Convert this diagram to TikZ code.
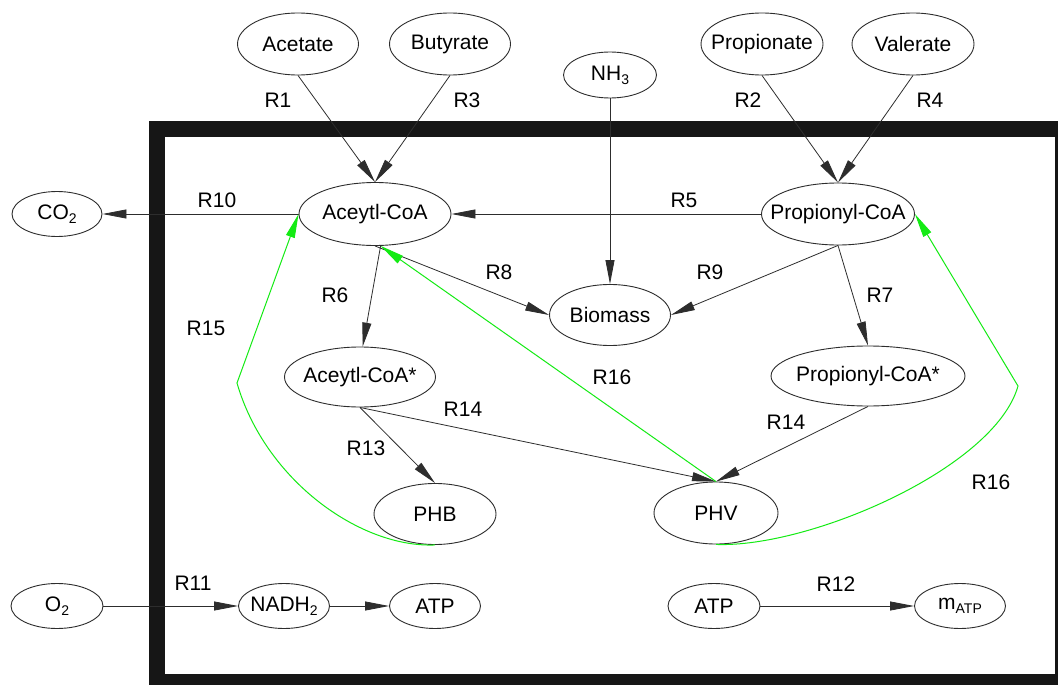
\documentclass[tikz,border=0pt]{standalone}
\usepackage{fontspec}
\setmainfont{Liberation Sans}
\usetikzlibrary{shapes.geometric,arrows.meta,calc}
\definecolor{lgreen}{RGB}{20,235,20}
\definecolor{edgec}{RGB}{45,45,45}
\definecolor{framec}{RGB}{22,22,22}
\newcommand\lsub[1]{\raisebox{-0.35ex}{\fontsize{14}{14}\selectfont #1}}
\begin{document}
\begin{tikzpicture}[x=1pt,y=-1pt,
 st/.style={draw=edgec, ellipse, inner xsep=-20pt, inner ysep=0pt, line width=0.9pt, font=\fontsize{21}{25}\selectfont, fill=white},
 lab/.style={font=\fontsize{21}{25}\selectfont, inner sep=0pt},
 arr/.style={draw=edgec, line width=0.8pt, -{Triangle[length=24pt,width=9pt]}},
 garr/.style={draw=lgreen, line width=1pt, -{Triangle[length=24pt,width=9pt,fill=lgreen]}},
 gline/.style={draw=lgreen, line width=1pt},
 ]
\useasboundingbox (0,0) rectangle (1058,685);
\clip (0,0) rectangle (1058,685);
% frame
\fill[framec] (149,121) rectangle (1075,700);
\fill[white] (165,137) rectangle (1055,674);

% nodes
\node[st, minimum width=121, minimum height=62] (acetate) at (298,44) {Acetate};
\node[st, minimum width=121, minimum height=62] (butyrate) at (450,44) {Butyrate};
\node[st, minimum width=93, minimum height=46] (nh3) at (610,75) {NH\lsub{3}};
\node[st, minimum width=122, minimum height=62] (propionate) at (762,44) {Propionate};
\node[st, minimum width=122, minimum height=62] (valerate) at (913,44) {Valerate};
\node[st, minimum width=90, minimum height=45] (co2) at (57,214) {CO\lsub{2}};
\node[st, minimum width=152, minimum height=63] (acetyl) at (375,214) {Aceytl-CoA};
\node[st, minimum width=153, minimum height=62] (propionyl) at (838,214) {Propionyl-CoA};
\node[st, minimum width=121, minimum height=61] (biomass) at (610,315) {Biomass};
\node[st, minimum width=151, minimum height=60] (acetylstar) at (360,377) {Aceytl-CoA*};
\node[st, minimum width=194, minimum height=60] (propstar) at (868,376) {Propionyl-CoA*};
\node[st, minimum width=122, minimum height=61] (phb) at (435,514) {PHB};
\node[st, minimum width=124, minimum height=62] (phv) at (716,513) {PHV};
\node[st, minimum width=92, minimum height=45] (o2) at (57,606) {O\lsub{2}};
\node[st, minimum width=91, minimum height=45] (nadh) at (284,606) {NADH\lsub{2}};
\node[st, minimum width=91, minimum height=45] (atpl) at (435,606) {ATP};
\node[st, minimum width=92, minimum height=45] (atpr) at (714,606) {ATP};
\node[st, minimum width=91, minimum height=45] (matp) at (960,606) {m\lsub{ATP}};

% black edges
\draw[arr] (acetate.south) -- (acetyl.north);
\draw[arr] (butyrate.south) -- (acetyl.north);
\draw[arr] (propionate.south) -- (propionyl.north);
\draw[arr] (valerate.south) -- (propionyl.north);
\draw[arr] (nh3.south) -- (biomass.north);
\draw[arr] (propionyl.west) -- (acetyl.east);
\draw[arr] (acetyl.west) -- (co2.east);
\draw[arr] (acetyl.-80) -- (acetylstar.85);
\draw[arr] (acetyl.south) -- (biomass.west);
\draw[arr] (propionyl.south) -- (biomass.east);
\draw[arr] (propionyl.south) -- (propstar.north);
\draw[arr] (acetylstar.south) -- (phv.north);
\draw[arr] (propstar.south) -- (phv.north);
\draw[arr] (acetylstar.south) -- (phb.north);
\draw[arr] (o2.east) -- (nadh.west);
\draw[arr] (nadh.east) -- (atpl.west);
\draw[arr] (atpr.east) -- (matp.west);

% green edges
\coordinate (k15) at (237,383);
\coordinate (k16) at (1018,386);
\draw[garr] (phb.south) .. controls (360,548) and (265,480) .. (k15) -- (acetyl.west);
\draw[garr] (phv.north) -- (acetyl.-80);
\draw[garr] (phv.south) .. controls (810,548) and (995,468) .. (k16) -- (propionyl.east);

% labels
\node[lab] (l1) at (278,100) {R1};
\node[lab] (l3) at (467,100) {R3};
\node[lab] (l2) at (748,100) {R2};
\node[lab] (l4) at (930,100) {R4};
\node[lab] (l10) at (217,200) {R10};
\node[lab] (l5) at (684,200) {R5};
\node[lab] (l8) at (499,272) {R8};
\node[lab] (l6) at (335,295) {R6};
\node[lab] (l9) at (710,272) {R9};
\node[lab] (l7) at (880,295) {R7};
\node[lab] (l15) at (206,328) {R15};
\node[lab] (l16a) at (612,377) {R16};
\node[lab] (l14a) at (463,409) {R14};
\node[lab] (l13) at (366,448) {R13};
\node[lab] (l14b) at (786,422) {R14};
\node[lab] (l16b) at (991,482) {R16};
\node[lab] (l11) at (193,583) {R11};
\node[lab] (l12) at (836,584) {R12};
\end{tikzpicture}
\end{document}
